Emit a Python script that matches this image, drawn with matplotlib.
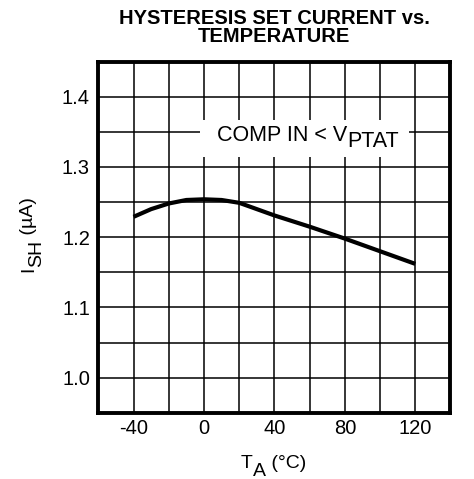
import numpy as np
import matplotlib
matplotlib.use("Agg")
import matplotlib.pyplot as plt
from matplotlib.patches import Rectangle
from matplotlib.transforms import Bbox
from matplotlib.ticker import MultipleLocator

plt.rcParams['font.family'] = ['Liberation Sans', 'DejaVu Sans']
plt.rcParams['axes.unicode_minus'] = False

# Data
temp_c = [-40, -30, -20, -10, 0, 10, 20, 30, 40, 60, 80, 100, 120]
i_sh_ua = [1.229, 1.240, 1.248, 1.253, 1.254, 1.253, 1.249, 1.240, 1.231,
           1.215, 1.198, 1.180, 1.162]

x_ticks = [-40, 0, 40, 80, 120]
y_ticks = [1.0, 1.1, 1.2, 1.3, 1.4]

TICK_FS = 14.5
LABEL_FS = 14
NOTE_FS = 15.5


def sub_text(first, pieces, fs, rotation=0, **kw):
    # chain text pieces, each (text, shift in points); subscripts sit lower
    prev = first
    shift_prev = 0
    out = [first]
    for txt, shift in pieces:
        d = shift - shift_prev
        if rotation == 90:
            prev = ax.annotate(txt, xy=(1, 1), xycoords=prev, xytext=(d, 0),
                               textcoords='offset points', ha='right', va='bottom',
                               rotation=90, fontsize=fs, **kw)
        else:
            prev = ax.annotate(txt, xy=(1, 0), xycoords=prev, xytext=(0, -d),
                               textcoords='offset points', ha='left', va='bottom',
                               fontsize=fs, **kw)
        shift_prev = shift
        out.append(prev)
    return out


fig = plt.figure(figsize=(4.74, 4.79), dpi=100)
ax = fig.add_axes([0.2074, 0.1384, 0.743, 0.7328])

ax.plot(temp_c, i_sh_ua, color='black', lw=3.0, solid_capstyle='butt', zorder=3)

ax.set_xlim(-60, 140)
ax.set_ylim(0.95, 1.45)
ax.set_xticks(x_ticks)
ax.set_yticks(y_ticks)
ax.set_yticklabels([f"{v:.1f}" for v in y_ticks])
ax.xaxis.set_minor_locator(MultipleLocator(20))
ax.yaxis.set_minor_locator(MultipleLocator(0.05))
ax.grid(True, which='both', color='black', lw=1.1)
ax.tick_params(which='both', length=0, labelsize=TICK_FS)
ax.tick_params(axis='x', pad=4.5)
ax.tick_params(axis='y', pad=6)
for s in ax.spines.values():
    s.set_linewidth(2.8)
    s.set_zorder(5)

# annotation
note = ax.text(7.4, 1.337, "COMP IN < V", fontsize=NOTE_FS, ha='left', va='baseline', zorder=4)
note_parts = sub_text(note, [("PTAT", 4.2)], NOTE_FS, zorder=4)

# axis labels with full-size, lowered subscripts
xl = fig.text(240.7 / 474, 1 - 468 / 479, "T", fontsize=LABEL_FS, ha='left', va='baseline')
sub_text(xl, [("A", 5.5), (" (°C)", 0)], LABEL_FS)

yl = fig.text(37 / 474, 1 - 272 / 479, "I", fontsize=LABEL_FS, rotation=90,
              ha='right', va='bottom')
sub_text(yl, [("SH", 6), (" (µA)", 0)], LABEL_FS, rotation=90)

ax.set_title("HYSTERESIS SET CURRENT vs.\nTEMPERATURE", fontsize=14.5, fontweight='bold',
             linespacing=0.95, pad=14)

# white backing behind the annotation, sized from the text extents
fig.canvas.draw()
r = fig.canvas.get_renderer()
bb = Bbox.union([t.get_window_extent(r) for t in note_parts])
bb = Bbox.from_extents(bb.x0 - 17, bb.y0 - 5, bb.x1 + 10, bb.y1 + 5)
bb = bb.transformed(ax.transAxes.inverted())
ax.add_patch(Rectangle((bb.x0, bb.y0), bb.width, bb.height, transform=ax.transAxes,
                       facecolor='white', edgecolor='none', zorder=3.5))

fig.savefig("out.png", dpi=100)
